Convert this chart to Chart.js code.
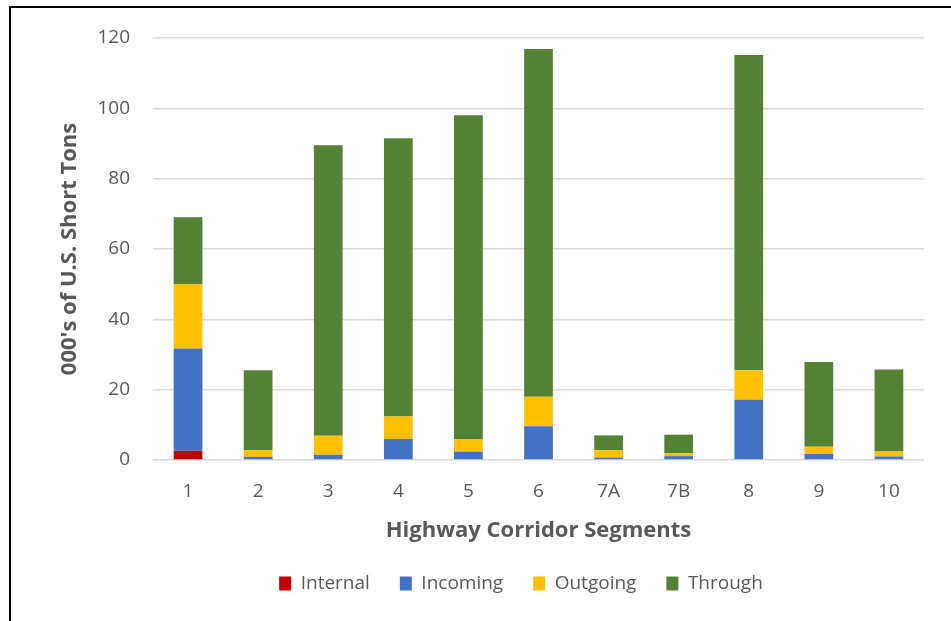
<!DOCTYPE html>
<html>
<head>
<meta charset="utf-8">
<script src="https://cdn.jsdelivr.net/npm/chart.js@4"></script>
<style>
  html, body { margin: 0; padding: 0; background: #fff; }
  .wrap { position: relative; width: 951px; height: 621px; }
  .frame {
    position: absolute; left: 9px; top: 6px; right: 0; bottom: 0;
    border-left: 2px solid #000; border-top: 2px solid #000;
    pointer-events: none;
  }
</style>
</head>
<body>
<div class="wrap">
  <canvas id="freight" width="951" height="621"></canvas>
  <div class="frame"></div>
</div>

<script>
  // segments along the corridor
  const segments = ["1", "2", "3", "4", "5", "6", "7A", "7B", "8", "9", "10"];

  // thousands of short tons
  const internal = [2.6, 0, 0, 0, 0, 0, 0, 0, 0, 0, 0];
  const incoming = [29.1, 0.9, 1.5, 6.0, 2.4, 9.6, 0.7, 1.1, 17.1, 1.7, 1.0];
  const outgoing = [18.3, 1.9, 5.4, 6.4, 3.4, 8.4, 2.1, 0.8, 8.4, 2.1, 1.4];
  const through = [19.0, 22.7, 82.6, 79.1, 92.2, 98.9, 4.2, 5.3, 89.7, 24.1, 23.3];

  const yTicks = [0, 20, 40, 60, 80, 100, 120];

  const textColor = "#595959";
  const fontFamily = "'Open Sans', 'Noto Sans', sans-serif";

  // nudge the legend right so it sits where the original one does
  const shiftLegend = {
    id: "shiftLegend",
    afterUpdate(chart) {
      const lg = chart.legend;
      if (!lg) return;
      lg.left += 34;
      lg.right += 34;
      lg.adjustHitBoxes();
    },
  };

  function makeChart() {
    const ctx = document.getElementById("freight").getContext("2d");
    return new Chart(ctx, {
      type: "bar",
      data: {
        labels: segments,
        datasets: [
          { label: "Internal", data: internal, backgroundColor: "#C00000" },
          { label: "Incoming", data: incoming, backgroundColor: "#4472C4" },
          { label: "Outgoing", data: outgoing, backgroundColor: "#FFC000" },
          { label: "Through", data: through, backgroundColor: "#548235" },
        ],
      },
      options: {
        responsive: false,
        animation: false,
        devicePixelRatio: 1,
        layout: { padding: { left: 50, right: 27, top: 38, bottom: 18 } },
        datasets: {
          bar: { categoryPercentage: 1, barPercentage: 0.41, borderWidth: 0 },
        },
        plugins: {
          legend: {
            position: "bottom",
            labels: {
              color: textColor,
              font: { family: fontFamily, size: 19 },
              boxWidth: 12,
              boxHeight: 14,
              padding: 30,
            },
          },
          tooltip: { enabled: false },
        },
        scales: {
          x: {
            stacked: true,
            grid: { display: false, drawTicks: false },
            border: { display: false },
            ticks: {
              color: textColor,
              font: { family: fontFamily, size: 19 },
              padding: 20,
            },
            title: {
              display: true,
              text: "Highway Corridor Segments",
              color: textColor,
              font: { family: fontFamily, size: 22, weight: "bold" },
              padding: { top: 4, bottom: 0 },
            },
            afterFit(scale) { scale.height = 84; },
          },
          y: {
            stacked: true,
            min: 0,
            max: 120,
            afterBuildTicks(scale) { scale.ticks = yTicks.map(v => ({ value: v })); },
            grid: { color: "#d9d9d9", lineWidth: 1.5, drawTicks: false },
            border: { display: false },
            ticks: {
              color: textColor,
              font: { family: fontFamily, size: 19 },
              padding: 23,
            },
            title: {
              display: true,
              text: "000's of U.S. Short Tons",
              color: textColor,
              font: { family: fontFamily, size: 22, weight: "bold" },
              padding: { top: 7, bottom: 4 },
            },
            afterFit(scale) { scale.width = 103; },
          },
        },
      },
      plugins: [shiftLegend],
    });
  }

  document.addEventListener("DOMContentLoaded", () => {
    makeChart();
  });
</script>
</body>
</html>
